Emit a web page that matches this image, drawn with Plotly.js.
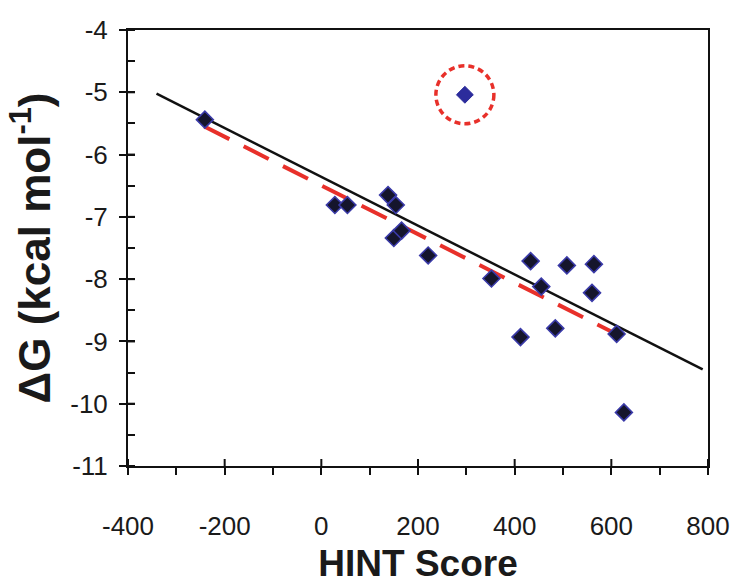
<!DOCTYPE html>
<html>
<head>
<meta charset="utf-8">
<script src="https://cdn.plot.ly/plotly-3.0.1.min.js"></script>
<style>
  html, body { margin: 0; padding: 0; background: #fff; }
  #chart { width: 750px; height: 585px; }
</style>
</head>
<body>
<div id="chart"></div>
<script>
// HINT score vs binding free energy
var hint = [-241, 28, 54, 138, 154, 150, 166, 221, 352, 412, 433, 455, 484, 508, 560, 564, 611, 626];
var dG   = [-5.44, -6.81, -6.81, -6.65, -6.81, -7.34, -7.22, -7.62, -7.99, -8.93, -7.71, -8.12, -8.79, -7.78, -8.22, -7.76, -8.88, -10.14];

// the circled outlier
var outX = [297];
var outY = [-5.04];

// regression lines (end points)
var fitAllX = [-341, 789];
var fitAllY = [-5.02, -9.45];
var fitRedX = [-242, 605];
var fitRedY = [-5.55, -8.86];

// tick labels (plain hyphen, as in the figure)
var xTicks = [-400, -200, 0, 200, 400, 600, 800];
var xTickText = ['-400', '-200', '0', '200', '400', '600', '800'];
var yTicks = [-11, -10, -9, -8, -7, -6, -5, -4];
var yTickText = ['-11', '-10', '-9', '-8', '-7', '-6', '-5', '-4'];

var xRange = [-400, 800];
var yRange = [-11, -4];

var tickFont = {family: 'Liberation Sans, Arial, sans-serif', size: 26, color: '#1a1a1a'};

var data = [
  {
    x: fitAllX, y: fitAllY, mode: 'lines', type: 'scatter',
    line: {color: '#111111', width: 2.5},
    hoverinfo: 'skip'
  },
  {
    x: fitRedX, y: fitRedY, mode: 'lines', type: 'scatter',
    line: {color: '#e8302a', width: 4, dash: '28px,16px'},
    hoverinfo: 'skip'
  },
  {
    x: hint, y: dG, mode: 'markers', type: 'scatter',
    marker: {symbol: 'diamond', size: 13, color: '#15152c', line: {color: '#3a3aa8', width: 1.6}}
  },
  {
    x: outX, y: outY, mode: 'markers', type: 'scatter',
    marker: {symbol: 'diamond', size: 13, color: '#2c2c9c', line: {color: '#2c2c9c', width: 1}}
  }
];

// major ticks cross the axis: the outer half comes from the axis,
// the inner half is a short pixel-sized shape anchored at each tick value
var tickLine = {color: '#111', width: 2};
var innerTicks = [];
xTicks.forEach(function (v) {
  innerTicks.push({type: 'line', xref: 'x', yref: 'y', x0: v, x1: v,
    ysizemode: 'pixel', yanchor: yRange[0], y0: 0, y1: 7, line: tickLine});
});
yTicks.forEach(function (v) {
  innerTicks.push({type: 'line', xref: 'x', yref: 'y', y0: v, y1: v,
    xsizemode: 'pixel', xanchor: xRange[0], x0: 0, x1: 7, line: tickLine});
});

// dashed circle round the outlier, sized in axis units
var rx = 60, ry = 0.466;
var circle = {
  type: 'circle', xref: 'x', yref: 'y',
  x0: outX[0] - rx, x1: outX[0] + rx, y0: outY[0] - ry, y1: outY[0] + ry,
  line: {color: '#e8302a', width: 3.5, dash: '6px,4px'}
};

var layout = {
  width: 750,
  height: 585,
  showlegend: false,
  paper_bgcolor: '#fff',
  plot_bgcolor: '#fff',
  margin: {l: 128, r: 42, t: 30, b: 119},
  xaxis: {
    range: xRange, tickmode: 'array', tickvals: xTicks, ticktext: xTickText,
    showgrid: false, zeroline: false,
    showline: true, linecolor: '#111', linewidth: 2, mirror: true,
    ticks: 'outside', ticklen: 7, tickwidth: 2, tickcolor: '#111',
    minor: {ticks: 'outside', dtick: 100, ticklen: 7, tickwidth: 2, tickcolor: '#111'},
    tickfont: tickFont, ticklabelstandoff: 29,
    title: {text: 'HINT Score', standoff: 10,
      font: {family: 'Liberation Sans, Arial, sans-serif', size: 37, color: '#1a1a1a', weight: 'bold'}}
  },
  yaxis: {
    range: yRange, tickmode: 'array', tickvals: yTicks, ticktext: yTickText,
    showgrid: false, zeroline: false,
    showline: true, linecolor: '#111', linewidth: 2, mirror: true,
    ticks: 'outside', ticklen: 7, tickwidth: 2, tickcolor: '#111',
    minor: {ticks: 'inside', dtick: 0.5, ticklen: 7, tickwidth: 2, tickcolor: '#111'},
    tickfont: tickFont, ticklabelstandoff: 6,
    title: {text: 'ΔG (kcal mol<sup>-1</sup>)', standoff: 6,
      font: {family: 'Liberation Sans, Arial, sans-serif', size: 44, color: '#1a1a1a', weight: 'bold'}}
  },
  shapes: innerTicks.concat([circle])
};

Plotly.newPlot('chart', data, layout, {staticPlot: true});
</script>
</body>
</html>
